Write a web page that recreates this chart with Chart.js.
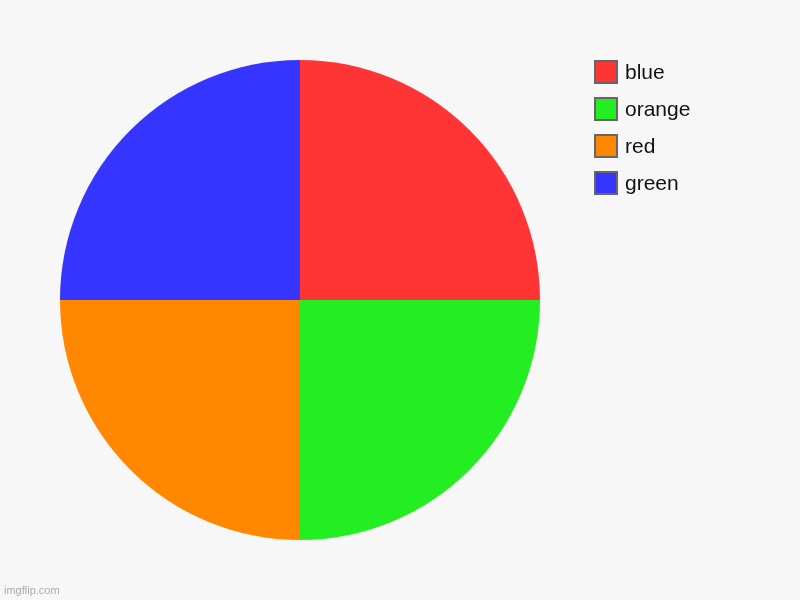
<!DOCTYPE html>
<html>
<head>
<meta charset="utf-8">
<script src="https://cdn.jsdelivr.net/npm/chart.js@4"></script>
<style>
  body { margin: 0; background: #f7f7f7; font-family: "Liberation Sans", Arial, sans-serif; }
  #wrap { position: relative; width: 800px; height: 600px; }
  #legend { position: absolute; left: 594px; top: 60px; }
  .item { height: 37px; display: flex; align-items: flex-start; }
  .box { width: 20px; height: 20px; border: 2px solid #666; margin-right: 7px; }
  .label { font-size: 21px; color: #111; line-height: 24px; }
  #mark { position: absolute; left: 4px; top: 584px; font-size: 11px; color: #aaa; }
</style>
</head>
<body>
<div id="wrap">
  <canvas id="myChart" width="800" height="600"></canvas>
  <div id="legend"></div>
  <div id="mark">imgflip.com</div>
</div>
<script>
const labels = ["blue", "orange", "red", "green"];
const values = [25, 25, 25, 25];
const colors = ["#ff3535", "#22ee22", "#ff8800", "#3535ff"];

document.addEventListener("DOMContentLoaded", (event) => {
    createPieChart(labels, values, colors);
    createLegend(labels, colors);
});

function createPieChart(labels, data, colors){
    const ctx = document.getElementById('myChart');
    new Chart(ctx, {
        type: 'pie',
        data: {
            labels: labels,
            datasets: [{
                data: data,
                backgroundColor: colors,
                borderWidth: 0
            }]
        },
        options: {
            responsive: false,
            animation: false,
            layout: { padding: { left: 60, top: 60, bottom: 60, right: 260 } },
            plugins: {
                legend: { display: false },
                tooltip: { enabled: false }
            }
        }
    });
}

function createLegend(labels, colors){
    const legend = document.getElementById('legend');
    for(let i = 0; i < labels.length; i++){
        let item = document.createElement('div');
        item.className = 'item';
        item.innerHTML = '<div class="box" style="background:' + colors[i] + '"></div><span class="label">' + labels[i] + '</span>';
        legend.appendChild(item);
    }
}
</script>
</body>
</html>
